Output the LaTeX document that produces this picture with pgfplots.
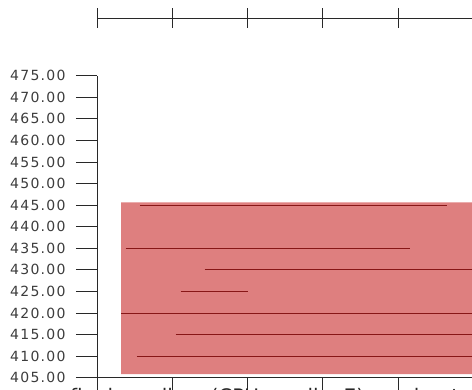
\documentclass[border=0pt]{standalone}
\usepackage{pgfplots}
\pgfplotsset{compat=1.18}
\usepackage{fontspec}
\setmainfont{DejaVu Sans}
\newfontfamily\tickfont{DejaVu Sans}[LetterSpace=9]
\definecolor{barfill}{RGB}{222,127,127}
\definecolor{barline}{RGB}{135,22,22}
\definecolor{axgray}{RGB}{40,40,40}
\definecolor{labgray}{RGB}{60,60,60}
\begin{document}
\begin{tikzpicture}
\useasboundingbox (0pt,0pt) rectangle (472pt,390pt);
\clip (0pt,0pt) rectangle (472pt,390pt);
\begin{axis}[
  at={(97pt,12.3pt)}, anchor=south west,
  scale only axis, width=451.8pt, height=302pt,
  xmin=0, xmax=6, ymin=405, ymax=475,
  axis lines=left, axis line style={-, axgray, line width=0.8pt},
  tick align=outside, major tick length=21pt,
  tick style={axgray, line width=0.8pt},
  xtick={0,1,2,3,4,5,6}, xticklabels={},
  ytick={405,410,415,420,425,430,435,440,445,450,455,460,465,470,475},
  yticklabel style={/pgf/number format/.cd, fixed, fixed zerofill, precision=2, assume math mode=true, /tikz/.cd, xshift=-7pt},
  ticklabel style={font=\tickfont\fontsize{14}{16}\selectfont, text=labgray},
]
\addplot[fill=barfill, draw=none] coordinates {(0.319,405.8) (6.5,405.8) (6.5,445.65) (0.319,445.65) (0.319,405.8)};
\addplot[barline, line width=0.9pt] coordinates {(0.571,445) (4.643,445)};
\addplot[barline, line width=0.9pt] coordinates {(0.381,435) (4.157,435)};
\addplot[barline, line width=0.9pt] coordinates {(1.430,430) (6.5,430)};
\addplot[barline, line width=0.9pt] coordinates {(1.112,425) (2.005,425)};
\addplot[barline, line width=0.9pt] coordinates {(0.319,420) (6.5,420)};
\addplot[barline, line width=0.9pt] coordinates {(1.045,415) (6.5,415)};
\addplot[barline, line width=0.9pt] coordinates {(0.531,410) (6.5,410)};
\end{axis}
\begin{axis}[
  at={(97pt,362pt)}, anchor=south west,
  scale only axis, width=451.8pt, height=20pt,
  xmin=0, xmax=6, ymin=-1, ymax=1,
  axis x line=middle, axis y line=none,
  axis line style={-, axgray, line width=0.8pt},
  tick style={axgray, line width=0.8pt},
  xtick={0,1,2,3,4,5,6}, xticklabels={},
  ytick=\empty,
  tick align=center, major tick length=20pt,
]
\end{axis}
\node[anchor=base west, inner sep=0pt, font=\fontsize{20}{24}\selectfont, text=axgray] at (70pt,-14pt) {final small on (CPU small a E) moving total};
\end{tikzpicture}
\end{document}
